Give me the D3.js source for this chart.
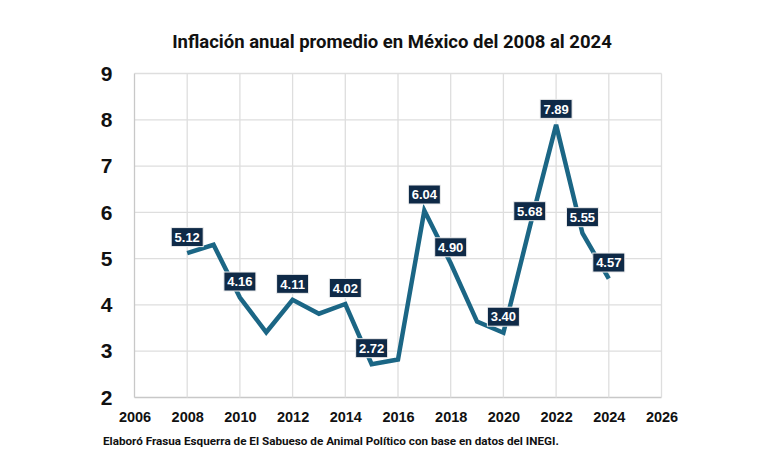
<!DOCTYPE html>
<html><head><meta charset="utf-8">
<script src="https://cdn.jsdelivr.net/npm/d3@7"></script>
<style>
html,body{margin:0;padding:0;background:#fff;}
svg{display:block;}
</style></head>
<body>
<svg id="chart" width="780" height="470"></svg>
<script>
const years = [2008,2009,2010,2011,2012,2013,2014,2015,2016,2017,2018,2019,2020,2021,2022,2023,2024];
const inflation = [5.12,5.30,4.16,3.41,4.11,3.81,4.02,2.72,2.82,6.04,4.90,3.64,3.40,5.68,7.89,5.55,4.57];
const labelYears = [2008,2010,2012,2014,2015,2017,2018,2020,2021,2022,2023,2024];
const xTicks = [2006,2008,2010,2012,2014,2016,2018,2020,2022,2024,2026];
const yTicks = [2,3,4,5,6,7,8,9];
const title = "Inflación anual promedio en México del 2008 al 2024";
const source = "Elaboró Frasua Esquerra de El Sabueso de Animal Político con base en datos del INEGI.";

(function(){
const svg = d3.select("#chart");
const L = 134.5, R = 661.5, T = 73.5, B = 397.5;
const x = d3.scaleLinear().domain([2006,2026]).range([L,R]);
const y = d3.scaleLinear().domain([2,9]).range([B,T]);
const headFont = "Roboto,'Liberation Sans',sans-serif";

svg.append("text").attr("x",392).attr("y",48).attr("text-anchor","middle")
  .attr("font-family",headFont).attr("font-weight","bold").attr("font-size",18.5)
  .attr("fill","#111").text(title);

const grid = svg.append("g");
grid.selectAll("line.h").data(yTicks).join("line")
  .attr("x1",L).attr("x2",R).attr("y1",d=>y(d)).attr("y2",d=>y(d))
  .attr("stroke",d=>d===2?"#c8c8c8":"#dedede").attr("stroke-width",1.3);
grid.selectAll("line.v").data(xTicks).join("line")
  .attr("x1",d=>x(d)).attr("x2",d=>x(d)).attr("y1",T).attr("y2",B)
  .attr("stroke",d=>d===2006?"#c8c8c8":"#dedede").attr("stroke-width",1.3);

const yAxis = svg.append("g").attr("transform",`translate(${L},0)`)
  .call(d3.axisLeft(y).tickValues(yTicks).tickSize(0).tickPadding(22).tickFormat(d3.format("d")));
yAxis.select(".domain").remove();
yAxis.selectAll("text").attr("font-family","'Liberation Sans',Arial,sans-serif")
  .attr("font-weight","bold").attr("font-size",21).attr("fill","#111");

const xAxis = svg.append("g").attr("transform",`translate(0,${B})`)
  .call(d3.axisBottom(x).tickValues(xTicks).tickSize(0).tickPadding(14).tickFormat(d3.format("d")));
xAxis.select(".domain").remove();
xAxis.selectAll("text").attr("font-family","'Liberation Sans',Arial,sans-serif")
  .attr("font-weight","bold").attr("font-size",14.5).attr("fill","#111");

const data = years.map((yr,i)=>({yr,v:inflation[i]}));
svg.append("path").datum(data)
  .attr("fill","none").attr("stroke","#1b6685").attr("stroke-width",4.5)
  .attr("stroke-linejoin","miter").attr("stroke-miterlimit",4)
  .attr("d",d3.line().x(d=>x(d.yr)).y(d=>y(d.v)));

const labs = svg.append("g").selectAll("g").data(data.filter(d=>labelYears.includes(d.yr))).join("g")
  .attr("transform",d=>`translate(${x(d.yr)},${y(d.v)-16})`);
labs.append("rect").attr("x",-16).attr("y",-9.5).attr("width",32).attr("height",19)
  .attr("fill","#0f2a47").attr("stroke","#f0f0f0").attr("stroke-width",1);
labs.append("text").attr("text-anchor","middle").attr("dy","0.36em")
  .attr("font-family","'Liberation Sans',Arial,sans-serif").attr("font-weight","bold")
  .attr("font-size",13).attr("fill","#fff").text(d=>d.v.toFixed(2));

svg.append("text").attr("x",103).attr("y",445)
  .attr("font-family",headFont).attr("font-weight","bold").attr("font-size",11.7)
  .attr("fill","#111").text(source);
})();
</script>
</body></html>
